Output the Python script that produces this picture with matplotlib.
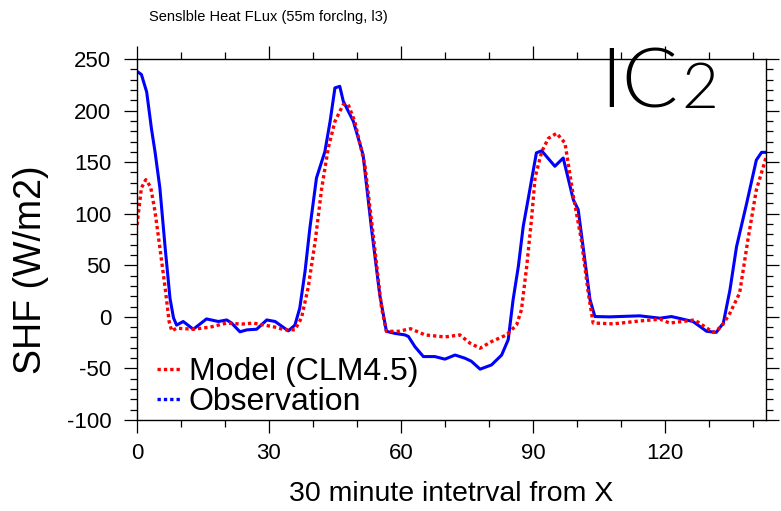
import matplotlib
matplotlib.use('Agg')
import matplotlib.pyplot as plt
from matplotlib.lines import Line2D
from matplotlib.ticker import MultipleLocator

plt.rcParams['font.family'] = ['Liberation Sans', 'DejaVu Sans']
plt.rcParams['axes.unicode_minus'] = False

# valeurs (intervalle de 30 min, W/m2)
obs_x = [0, 1, 2.2, 3.3, 4.1, 5.2, 6.4, 7.5, 8.3, 9, 10.5, 12.8, 15.8, 18.5, 20.4,
         21.5, 23.4, 25, 27.2, 29.5, 31.4, 34.4, 35.9, 37, 38.2, 39.3, 40.8, 42.7,
         43.9, 45, 46.1, 46.9, 49.2, 51.4, 53.3, 55.2, 56.7, 58.6, 60.9, 61.7, 63.2,
         65.1, 67.7, 70, 72.3, 74.5, 76, 78, 80.6, 82.9, 84.4, 85.5, 86.7, 87.8,
         88.9, 90.8, 92, 95, 96.9, 99.2, 100.3, 103, 104.1, 107.5, 114.3, 118.9,
         121.5, 126.4, 129.5, 131.7, 133.3, 134.8, 136.3, 138.6, 140.8, 142, 143]
obs_y = [238, 235, 218, 182, 160, 125, 67, 18, -1, -8, -4.5, -12, -2, -4.5, -3,
         -6, -14.5, -12.6, -12, -3, -4.5, -13.6, -8, 8.4, 44, 86, 134.6, 160,
         189.5, 222, 223.5, 209, 189.5, 157, 86, 21, -14, -16, -17.5, -19, -29,
         -38.5, -38.5, -41, -37, -40, -43, -50.7, -46.6, -37, -22, 16.5, 49, 87.6,
         113.5, 159, 161, 146, 154, 113.5, 104, 16.5, 0.3, 0, 1, -1.3,
         0.3, -4.5, -14, -15, -6, 26, 68, 110, 152, 159.5, 159.5]

model_x = [0, 1, 2, 3.1, 4.1, 5.2, 6.4, 7.3, 7.9, 9, 12.8, 16.6, 20.4, 23.8, 26.4,
           29.5, 31.4, 33.6, 35.9, 37.4, 38.9, 40.5, 42, 43.5, 45, 46.9, 48, 49.5,
           51.8, 53.7, 55.6, 56.7, 59.4, 62.2, 65.5, 70, 73.4, 75.7, 78, 80.6, 84,
           86.3, 87.4, 88.6, 89.7, 90.5, 92, 93.5, 95.4, 97.3, 99.2, 101, 102.6,
           103.7, 108.3, 114.3, 118.9, 121.1, 126.8, 131, 132.9, 134.8, 137, 138.9,
           140.8, 142.7, 143]
model_y = [89, 125, 133, 126, 102, 67, 28, -4.5, -13.6, -11, -12, -10, -6, -7, -6,
           -8.4, -10, -12.6, -12.6, -1, 28, 73, 125, 164, 189.5, 206, 206, 189.5,
           147.5, 79.6, 8.4, -14, -14, -11.5, -17.5, -19.5, -17.5, -25.5, -30.4, -24, -17.5,
           -7.8, 6.8, 49, 95, 135, 160, 173, 178, 168.5, 117, 75, 23,
           -6, -6.8, -4, -2.3, -6, -3, -15, -9.4, 3.6, 23, 75,
           123, 150, 155]

series_labels = ['Model (CLM4.5)', 'Observation']
series_colors = ['#ff0000', '#0000ff']

fig = plt.figure(figsize=(7.81, 5.11), dpi=100)
ax = fig.add_axes([137 / 781, 1 - 420 / 511, 629 / 781, 361 / 511])

# les courbes
ax.plot(obs_x, obs_y, color=series_colors[1], linewidth=2.2, solid_joinstyle='round')
ax.plot(model_x, model_y, color=series_colors[0], linewidth=2.4,
        linestyle=(0, (1, 0.9)), dash_capstyle='butt')

ax.set_xlim(0, 143)
ax.set_ylim(-100, 250)
ax.xaxis.set_major_locator(MultipleLocator(30))
ax.xaxis.set_minor_locator(MultipleLocator(10))
ax.yaxis.set_major_locator(MultipleLocator(50))
ax.yaxis.set_minor_locator(MultipleLocator(10))
ax.tick_params(which='both', direction='out', top=True, right=True, width=0.9,
               labelsize=16, labelright=False, labeltop=False)
ax.tick_params(which='major', length=9.5)
ax.tick_params(which='minor', length=5)
ax.tick_params(axis='y', pad=9)
ax.tick_params(axis='x', pad=7)
for s in ax.spines.values():
    s.set_linewidth(1.0)

# textes
fig.text(268 / 781, 1 - 17 / 511, 'Senslble Heat FLux (55m forclng, l3)',
         ha='center', va='center', fontsize=10.5)
fig.text(31 / 781, 1 - 270 / 511, 'SHF (W/m2)', rotation=90,
         ha='center', va='center', fontsize=27)
fig.text(451 / 781, 1 - 494 / 511, '30 minute intetrval from X',
         ha='center', va='center', fontsize=20.5)

fig.text(600 / 781, 1 - 108 / 511, 'IC', ha='left', va='baseline',
         fontsize=60, family=['Lato', 'DejaVu Sans'], fontweight=300)
fig.text(681 / 781, 1 - 108 / 511, '2', ha='left', va='baseline',
         fontsize=46, family=['Lato', 'DejaVu Sans'], fontweight=300)

# légende
handles = [Line2D([], [], color=c, linewidth=2.4, linestyle=(0, (1, 0.9)),
                  dash_capstyle='butt') for c in series_colors]
fig.legend(handles, series_labels, loc='lower left',
           bbox_to_anchor=(157 / 781, 1 - 417 / 511), frameon=False,
           fontsize=23, handlelength=0.75, handletextpad=0.25, borderpad=0,
           borderaxespad=0, labelspacing=0.0)

fig.savefig('out.png', dpi=100)
